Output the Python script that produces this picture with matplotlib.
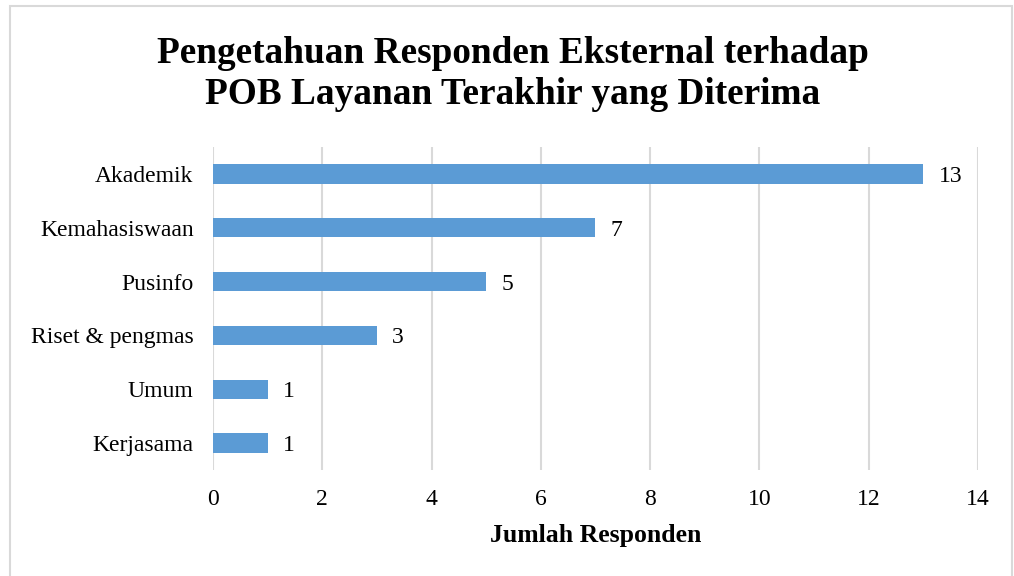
import matplotlib.pyplot as plt
from matplotlib.patches import Rectangle

categories = ["Akademik", "Kemahasiswaan", "Pusinfo", "Riset & pengmas", "Umum", "Kerjasama"]
values = [13, 7, 5, 3, 1, 1]

plt.rcParams['font.family'] = ['Liberation Serif', 'DejaVu Serif']

fig = plt.figure(figsize=(10.14, 5.76), dpi=100)
ax = fig.add_axes([0.210, 0.184, 0.7545, 0.561])

ypos = list(range(len(categories)))
ax.barh(ypos, values, height=0.36, color="#5b9bd5", zorder=3)
for y, v in zip(ypos, values):
    ax.text(v + 0.28, y, str(v), va="center_baseline", ha="left", fontsize=17)

ax.set_yticks(ypos)
ax.set_yticklabels(categories, fontsize=17)
ax.set_ylim(len(categories) - 0.5, -0.5)
ax.set_xlim(0, 14)
ax.set_xticks(range(0, 15, 2))
ax.tick_params(axis="x", labelsize=17, length=0, pad=14)
ax.tick_params(axis="y", length=0, pad=14)
ax.grid(axis="x", color="#d9d9d9", linewidth=1.5, zorder=0)
for s in ax.spines.values():
    s.set_visible(False)
ax.set_xlabel("Jumlah Responden", fontsize=18.5, fontweight="bold", labelpad=10)

fig.text(0.506, 0.871, "Pengetahuan Responden Eksternal terhadap\nPOB Layanan Terakhir yang Diterima",
         ha="center", va="center", fontsize=26.8, fontweight="bold", linespacing=1.22)

# light frame around the chart area
fig.patches.append(Rectangle((10 / 1014, -0.01), 1002 / 1014, 1 - 6 / 576 + 0.01,
                             transform=fig.transFigure, fill=False,
                             edgecolor="#d9d9d9", linewidth=1.5))

plt.savefig("out.png", dpi=100)
